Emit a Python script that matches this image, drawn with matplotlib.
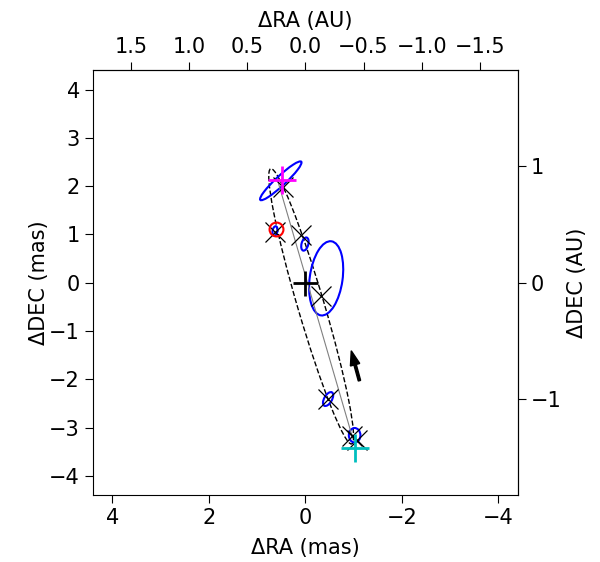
import matplotlib
matplotlib.use('Agg')
import matplotlib.pyplot as plt
from matplotlib.patches import Ellipse

plt.rcParams['font.size'] = 15
plt.rcParams['xtick.major.size'] = 6
plt.rcParams['ytick.major.size'] = 6

plx = 2.41  # mas per AU

# fitted orbit (projected ellipse)
orbit_center = (-0.12, -0.49)
orbit_major = 5.94
orbit_minor = 0.55
orbit_angle = 73.6

# line through the primary
node_ra = [0.57, -0.98]
node_dec = [2.10, -3.22]

# model positions
model_ra = [0.47, 0.62, 0.10, -0.33, -0.47, -0.97, -1.06]
model_dec = [1.98, 1.06, 0.99, -0.27, -2.40, -3.18, -3.26]

# measured positions with error ellipses
obs_ra = [0.51, 0.63, 0.01, -0.43, -0.47, -1.02]
obs_dec = [2.11, 1.07, 0.80, 0.09, -2.41, -3.16]
err_w = [1.16, 0.10, 0.14, 0.68, 0.16, 0.24]
err_h = [0.20, 0.20, 0.28, 1.55, 0.32, 0.30]
err_ang = [137, 10, 15, 8, 30, 0]

red_pt = (0.60, 1.11)
magenta_pt = (0.49, 2.13)
cyan_pt = (-1.02, -3.42)
arrow_tail = (-1.12, -2.03)
arrow_tip = (-0.95, -1.41)

fig = plt.figure(figsize=(6, 5.62), dpi=100)
ax = fig.add_axes([0.155, 0.119, 0.708, 0.756])

ax.add_patch(Ellipse(orbit_center, orbit_major, orbit_minor, angle=orbit_angle,
                     fill=False, ls='--', lw=1, color='k'))
ax.plot(node_ra, node_dec, color='grey', lw=0.8)

for x, y, w, h, a in zip(obs_ra, obs_dec, err_w, err_h, err_ang):
    ax.add_patch(Ellipse((x, y), w, h, angle=a, fill=False, color='b', lw=1.5))

ax.plot(model_ra, model_dec, 'kx', ms=15, mew=0.9)
ax.plot(*red_pt, 'o', mfc='none', mec='r', ms=10, mew=1.5)
ax.plot(*magenta_pt, '+', color='magenta', ms=20, mew=2)
ax.plot(*cyan_pt, '+', color='c', ms=20, mew=2)
ax.plot(0, 0, 'k+', ms=18, mew=2)

ax.arrow(arrow_tail[0], arrow_tail[1], arrow_tip[0] - arrow_tail[0], arrow_tip[1] - arrow_tail[1],
         width=0.05, head_width=0.2, head_length=0.3, length_includes_head=True,
         fc='k', ec='k')

ax.set_xlim(4.4, -4.4)
ax.set_ylim(-4.4, 4.4)
ax.set_xticks([4, 2, 0, -2, -4])
ax.set_yticks(range(-4, 5))
ax.set_xlabel('ΔRA (mas)', labelpad=7)
ax.set_ylabel('ΔDEC (mas)', labelpad=0)

secx = ax.secondary_xaxis('top', functions=(lambda v: v / plx, lambda v: v * plx))
secx.set_xticks([1.5, 1.0, 0.5, 0.0, -0.5, -1.0, -1.5])
secx.set_xlabel('ΔRA (AU)', labelpad=7)
secy = ax.secondary_yaxis('right', functions=(lambda v: v / plx, lambda v: v * plx))
secy.set_yticks([-1, 0, 1])
secy.set_ylabel('ΔDEC (AU)')

fig.savefig('out.png', dpi=100)
